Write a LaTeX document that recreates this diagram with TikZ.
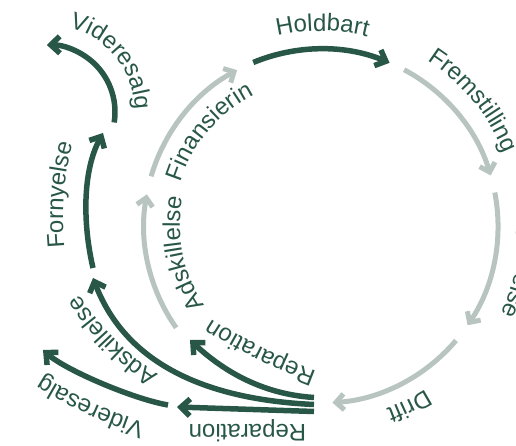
\documentclass[tikz,border=0pt]{standalone}
\usepackage{fontspec}
\setmainfont{Liberation Sans}
\usetikzlibrary{arrows.meta,decorations.text}
\definecolor{dk}{HTML}{285747}
\definecolor{lg}{HTML}{B8C4BF}
\newcommand\lblfmt{\fontsize{24}{28}\selectfont}

\begin{document}
\begin{tikzpicture}[x=1pt,y=1pt,
  cyclearrow/.style={draw=lg, line width=5pt, -{Straight Barb[length=8pt,width=16pt]}},
  looparrow/.style={draw=dk, line width=5.5pt, -{Straight Barb[length=9pt,width=17pt]}},
  lbl/.style={decorate, decoration={text along path, text align=center,
      text color=dk, text={|\lblfmt|#1}}}
]
\useasboundingbox (0,0) rectangle (516,446);
\coordinate (C) at (321,220);
\coordinate (S) at (48,334);

% main cycle around C
\draw[cyclearrow] ([shift={(163.7:177)}]C) arc[start angle=163.7, end angle=118.3, radius=177];
\draw[looparrow]  ([shift={(112.5:177)}]C) arc[start angle=112.5, end angle=67.2, radius=177];
\draw[cyclearrow] ([shift={(62:177)}]C)    arc[start angle=62, end angle=16.6, radius=177];
\draw[cyclearrow] ([shift={(10.9:177)}]C)  arc[start angle=10.9, end angle=-34.1, radius=177];
\draw[cyclearrow] ([shift={(-40.3:177)}]C) arc[start angle=-40.3, end angle=-86.3, radius=177];
\draw[cyclearrow] ([shift={(215.1:177)}]C) arc[start angle=215.1, end angle=169.7, radius=177];

% labels of the main cycle
\path[lbl={Holdbart}]     ([shift={(124.6:195)}]C) arc[start angle=124.6, end angle=54.6, radius=195];
\path[lbl={Fremstilling}] ([shift={(84.5:197)}]C)  arc[start angle=84.5, end angle=-5.5, radius=197];
\path[lbl={Opførelse}]    ([shift={(29:200)}]C)    arc[start angle=29, end angle=-51, radius=200];
\path[lbl={Drift}]        ([shift={(-33.9:194)}]C) arc[start angle=-33.9, end angle=-93.9, radius=194];
\path[lbl={Finansierin}]  ([shift={(174.9:147)}]C) arc[start angle=174.9, end angle=104.9, radius=147];
\path[lbl={Adskillelse}]  ([shift={(226.2:141)}]C) arc[start angle=226.2, end angle=156.2, radius=141];

% outer loops
\draw[looparrow] (314,48.5) .. controls (258,52) and (219,79) .. (190,106);
\draw[looparrow] (314,41.5) .. controls (203,46.5) and (125,84) .. (93,168);
\draw[looparrow] (314,34.5) -- (177,39);
\draw[looparrow] (168,41) .. controls (133,47) and (65.5,76) .. (43,96);
\draw[looparrow] (93,178) .. controls (83,221) and (82,274) .. (103,313);
\draw[looparrow] ([shift={(-9:67)}]S) arc[start angle=-9, end angle=91, radius=67];

% labels of the outer loops
\path[lbl={Reparation}]  (330,70) .. controls (289,84) and (236,109) .. (200,135);
\path[lbl={Adskillelse}] (164.6,67.2) .. controls (128,90) and (97,122) .. (75,158.2);
\path[lbl={Reparation}]  (335,21) -- (160,21);
\path[lbl={Videresalg}]  (153,20.5) .. controls (112,33) and (70,52) .. (36,74.7);
\path[lbl={Fornyelse}]   (66,184) .. controls (61,221) and (61,276) .. (78,316);
\path[lbl={Videresalg}]  ([shift={(83.7:87)}]S) arc[start angle=83.7, end angle=-6.3, radius=87];
\end{tikzpicture}
\end{document}
